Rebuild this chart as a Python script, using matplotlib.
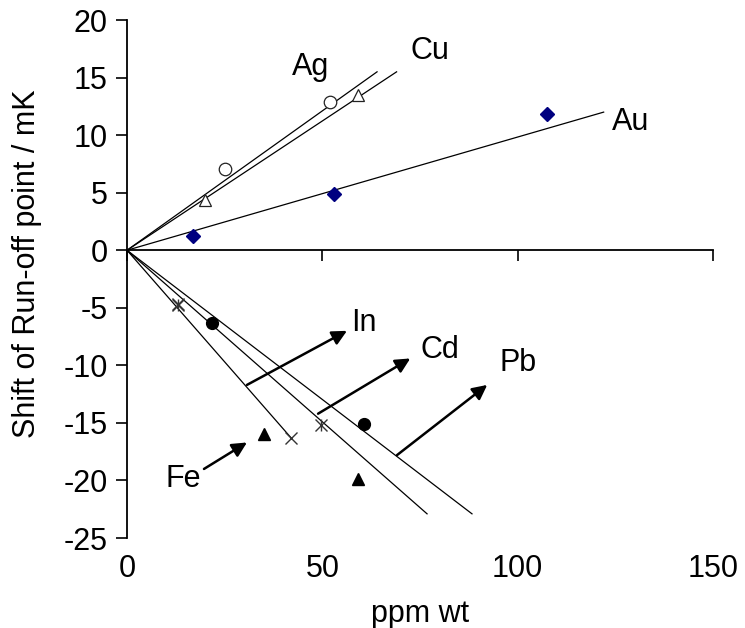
import matplotlib
matplotlib.use("Agg")
import matplotlib.pyplot as plt
from matplotlib.transforms import blended_transform_factory

plt.rcParams['font.family'] = ['Liberation Sans', 'DejaVu Sans']

# ---- data ----
ag_x = [25, 52]
ag_y = [7.1, 12.9]
cu_x = [20, 59]
cu_y = [4.4, 13.5]
au_x = [17, 53, 107.5]
au_y = [1.2, 4.9, 11.8]
in_x = [13, 42]
in_y = [-4.7, -16.3]
cd_x = [13, 49.7]
cd_y = [-4.8, -15.2]
pb_x = [21.8, 60.7]
pb_y = [-6.3, -15.1]
fe_x = [35, 59]
fe_y = [-16.0, -19.9]

# fitted lines (start, end)
ag_fit_x = [0, 64]
ag_fit_y = [0, 15.5]
cu_fit_x = [0, 69]
cu_fit_y = [0, 15.5]
au_fit_x = [0, 122]
au_fit_y = [0, 12.0]
in_fit_x = [0, 42]
in_fit_y = [0, -16.3]
cd_fit_x = [0, 76.8]
cd_fit_y = [0, -22.9]
pb_fit_x = [0, 88.3]
pb_fit_y = [0, -22.9]

x_ticks = [0, 50, 100, 150]
y_ticks = [20, 15, 10, 5, 0, -5, -10, -15, -20, -25]

# labels: (text, x, y)
labels = [("Ag", 47, 15.9), ("Cu", 77.5, 17.3), ("Au", 129, 11.1),
          ("In", 60.5, -6.3), ("Cd", 80, -8.7), ("Pb", 100, -9.8),
          ("Fe", 14.5, -19.9)]
# arrows: (x0, y0, x1, y1)
arrows = [(30.7, -11.7, 56.3, -7.0), (48.9, -14.2, 72.5, -9.4),
          (69.1, -17.8, 92.2, -11.7), (19.7, -19.0, 30.7, -16.7)]

fig = plt.figure(figsize=(7.45, 6.28), dpi=100)
ax = fig.add_axes([0.1705, 0.1433, 0.7866, 0.8248])

fs = 22
lc = 'black'
lw = 0.9
ax.plot(ag_fit_x, ag_fit_y, color=lc, lw=lw)
ax.plot(cu_fit_x, cu_fit_y, color=lc, lw=lw)
ax.plot(au_fit_x, au_fit_y, color=lc, lw=lw)
ax.plot(in_fit_x, in_fit_y, color=lc, lw=lw)
ax.plot(cd_fit_x, cd_fit_y, color=lc, lw=lw)
ax.plot(pb_fit_x, pb_fit_y, color=lc, lw=lw)

ax.plot(ag_x, ag_y, 'o', mfc='white', mec='#222222', ms=9, mew=0.9, ls='none')
ax.plot(cu_x, cu_y, '^', mfc='white', mec='#222222', ms=9, mew=0.9, ls='none')
ax.plot(au_x, au_y, 'D', mfc='#000080', mec='#000080', ms=7.5, ls='none')
ax.plot(in_x, in_y, 'x', color='#333333', ms=8, mew=1.0, ls='none')
ax.plot(cd_x, cd_y, 'x', color='#333333', ms=8, mew=1.0, ls='none')
ax.plot(cd_x, cd_y, '|', color='#333333', ms=8, mew=1.0, ls='none')
ax.plot(pb_x, pb_y, 'o', color='black', ms=8.5, ls='none')
ax.plot(fe_x, fe_y, '^', color='black', ms=8.5, ls='none')

for t, x, y in labels:
    ax.text(x, y, t, fontsize=fs, ha='center', va='center')
for x0, y0, x1, y1 in arrows:
    ax.annotate('', xy=(x1, y1), xytext=(x0, y0),
                arrowprops=dict(arrowstyle='-|>', color='black', lw=1.8,
                                mutation_scale=22, shrinkA=0, shrinkB=0))

ax.set_xlim(0, 150)
ax.set_ylim(-25, 20)
ax.set_xticks(x_ticks)
ax.set_yticks(y_ticks)
ax.set_yticklabels([str(v) for v in y_ticks], fontsize=fs)
ax.set_xticklabels([])
ax.spines['top'].set_visible(False)
ax.spines['right'].set_visible(False)
ax.spines['bottom'].set_position(('data', 0))
ax.spines['bottom'].set_linewidth(1.3)
ax.spines['left'].set_linewidth(1.3)
ax.tick_params(axis='y', direction='out', length=8, width=1.2, pad=6)
ax.tick_params(axis='x', direction='out', length=8, width=1.2, pad=6)

tr = blended_transform_factory(ax.transData, ax.transAxes)
for v in x_ticks:
    ax.text(v, -0.03, str(v), transform=tr, fontsize=fs, ha='center', va='top')
ax.text(0.5, -0.118, 'ppm wt', transform=ax.transAxes, fontsize=fs,
        ha='center', va='top')
ax.set_ylabel('Shift of Run-off point / mK', fontsize=fs)
ax.yaxis.set_label_coords(-0.145, 0.53)

fig.savefig('out.png', dpi=100)
